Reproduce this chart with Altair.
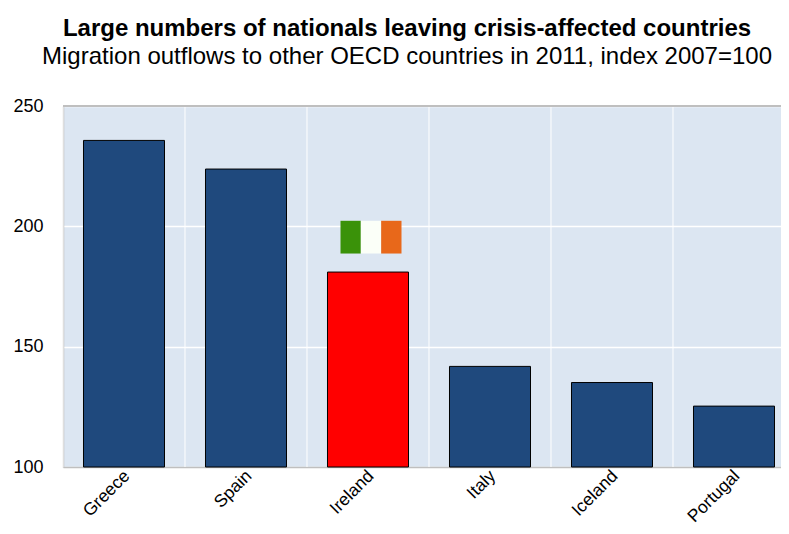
import altair as alt
import pandas as pd

countries = ["Greece", "Spain", "Ireland", "Italy", "Iceland", "Portugal"]
values = [235.7, 223.8, 181, 141.8, 135.1, 125.3]
colors = ["#1F497D", "#1F497D", "#FF0000", "#1F497D", "#1F497D", "#1F497D"]
flag_parts = ["green", "white", "orange"]
flag_colors = ["#3A9209", "#FBFFF8", "#E8681A"]
flag_lo = 188.7
flag_hi = 202.3

df = pd.DataFrame({"c": countries, "v": values, "col": colors})
flag = pd.DataFrame({"c": ["Ireland"] * 3, "lo": [flag_lo] * 3, "hi": [flag_hi] * 3,
                     "col": flag_colors, "part": flag_parts})

xscale = alt.Scale(domain=countries, paddingInner=0.336, paddingOuter=0.168, range=[0, 732])
x = alt.X("c:N", sort=countries, title=None, scale=xscale,
          axis=alt.Axis(labelAngle=-45, labelAlign="right", labelBaseline="middle", labelFontSize=17.5,
                        labelColor="#000", labelFont="Liberation Sans", labelPadding=6, labelOffset=3,
                        ticks=False, labelBound=False, labelOverlap=False,
                        domain=True, domainColor="#BFBFBF", domainWidth=1.5, grid=False))
y = alt.Y("v:Q", title=None, scale=alt.Scale(domain=[100, 250], nice=False, clamp=True),
          axis=alt.Axis(values=[100, 150, 200, 250], labelFontSize=18, labelColor="#000",
                        labelFont="Liberation Sans", labelPadding=20, ticks=False,
                        domain=True, domainColor="#BFBFBF", domainWidth=1.5,
                        gridColor="#FFFFFF", gridWidth=1.5))

base = alt.Chart(df)
bars = base.mark_bar(stroke="#000000", strokeWidth=1).encode(
    x=x, y=y, y2=alt.datum(100), color=alt.Color("col:N", scale=None))

vgrid = base.mark_rule(color="#FFFFFF", strokeWidth=1, xOffset=-20.5).encode(
    x=alt.X("c:N", sort=countries, scale=xscale, bandPosition=0, title=None))

top = base.mark_rule(color="#BFBFBF", strokeWidth=1.5).encode(y=alt.datum(250))

flags = alt.Chart(flag).mark_bar().encode(
    x=alt.X("c:N", sort=countries, scale=xscale, title=None),
    xOffset=alt.XOffset("part:N", sort=flag_parts, scale=alt.Scale(range=[13, 74], domain=flag_parts)),
    y=alt.Y("lo:Q", title=None), y2="hi:Q", color=alt.Color("col:N", scale=None))

chart = alt.layer(bars, vgrid, flags, top).properties(
    width=718, height=361,
    autosize=alt.AutoSizeParams(type="none"),
    padding={"left": 55, "top": 98, "right": 0, "bottom": 59},
    title=alt.TitleParams(
        text="Large numbers of nationals leaving crisis-affected countries",
        subtitle="Migration outflows to other OECD countries in 2011, index 2007=100",
        font="Liberation Sans", fontSize=24, fontWeight="bold", color="#000",
        subtitleFont="Liberation Sans", subtitleFontSize=24, subtitleColor="#000",
        anchor="middle", offset=28, subtitlePadding=4, dx=-15),
).configure_view(fill="#DCE6F2", stroke=None)

chart.save("out.html", embed_options={"renderer": "svg", "actions": False})
